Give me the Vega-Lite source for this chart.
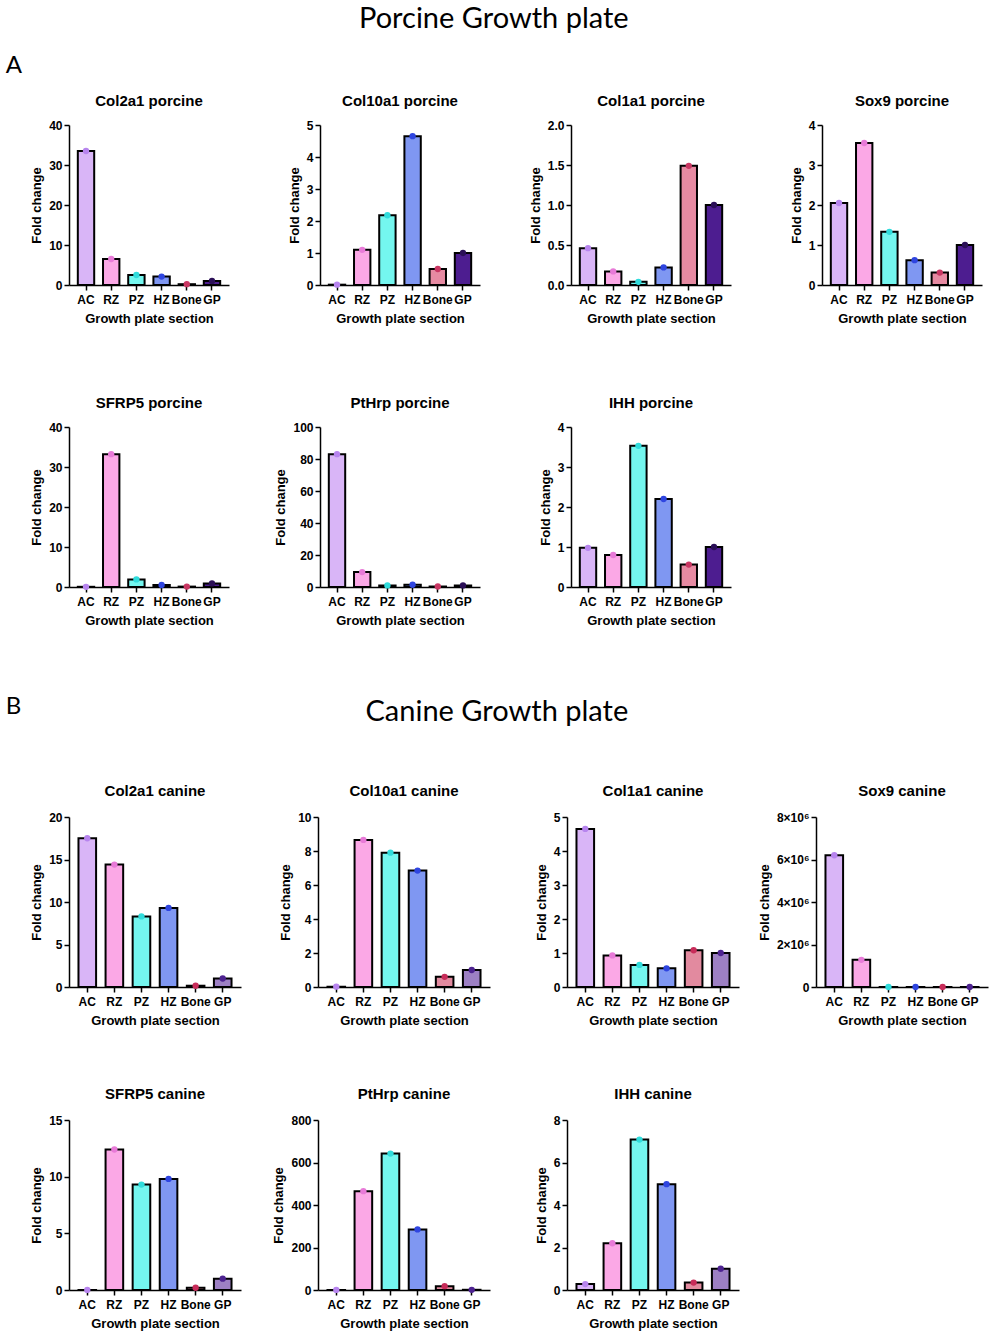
{
  "$schema": "https://vega.github.io/schema/vega-lite/v6.json",
  "background": "white",
  "padding": {"left": 5, "top": 5, "right": 5, "bottom": 2},
  "datasets": {
    "expr": [
      {"panel": "Col2a1 porcine", "section": "AC", "value": 33.5},
      {"panel": "Col2a1 porcine", "section": "RZ", "value": 6.5},
      {"panel": "Col2a1 porcine", "section": "PZ", "value": 2.5},
      {"panel": "Col2a1 porcine", "section": "HZ", "value": 2.1},
      {"panel": "Col2a1 porcine", "section": "Bone", "value": 0.2},
      {"panel": "Col2a1 porcine", "section": "GP", "value": 1.0},
      {"panel": "Col10a1 porcine", "section": "AC", "value": 0.01},
      {"panel": "Col10a1 porcine", "section": "RZ", "value": 1.1},
      {"panel": "Col10a1 porcine", "section": "PZ", "value": 2.18},
      {"panel": "Col10a1 porcine", "section": "HZ", "value": 4.65},
      {"panel": "Col10a1 porcine", "section": "Bone", "value": 0.5},
      {"panel": "Col10a1 porcine", "section": "GP", "value": 1.0},
      {"panel": "Col1a1 porcine", "section": "AC", "value": 0.46},
      {"panel": "Col1a1 porcine", "section": "RZ", "value": 0.17},
      {"panel": "Col1a1 porcine", "section": "PZ", "value": 0.04},
      {"panel": "Col1a1 porcine", "section": "HZ", "value": 0.22},
      {"panel": "Col1a1 porcine", "section": "Bone", "value": 1.49},
      {"panel": "Col1a1 porcine", "section": "GP", "value": 1.0},
      {"panel": "Sox9 porcine", "section": "AC", "value": 2.05},
      {"panel": "Sox9 porcine", "section": "RZ", "value": 3.55},
      {"panel": "Sox9 porcine", "section": "PZ", "value": 1.33},
      {"panel": "Sox9 porcine", "section": "HZ", "value": 0.62},
      {"panel": "Sox9 porcine", "section": "Bone", "value": 0.31},
      {"panel": "Sox9 porcine", "section": "GP", "value": 1.0},
      {"panel": "SFRP5 porcine", "section": "AC", "value": 0.05},
      {"panel": "SFRP5 porcine", "section": "RZ", "value": 33.2},
      {"panel": "SFRP5 porcine", "section": "PZ", "value": 1.9},
      {"panel": "SFRP5 porcine", "section": "HZ", "value": 0.5},
      {"panel": "SFRP5 porcine", "section": "Bone", "value": 0.1},
      {"panel": "SFRP5 porcine", "section": "GP", "value": 0.9},
      {"panel": "PtHrp porcine", "section": "AC", "value": 83.0},
      {"panel": "PtHrp porcine", "section": "RZ", "value": 9.3},
      {"panel": "PtHrp porcine", "section": "PZ", "value": 1.0},
      {"panel": "PtHrp porcine", "section": "HZ", "value": 1.4},
      {"panel": "PtHrp porcine", "section": "Bone", "value": 0.3},
      {"panel": "PtHrp porcine", "section": "GP", "value": 1.0},
      {"panel": "IHH porcine", "section": "AC", "value": 0.98},
      {"panel": "IHH porcine", "section": "RZ", "value": 0.8},
      {"panel": "IHH porcine", "section": "PZ", "value": 3.53},
      {"panel": "IHH porcine", "section": "HZ", "value": 2.2},
      {"panel": "IHH porcine", "section": "Bone", "value": 0.56},
      {"panel": "IHH porcine", "section": "GP", "value": 1.0},
      {"panel": "Col2a1 canine", "section": "AC", "value": 17.5},
      {"panel": "Col2a1 canine", "section": "RZ", "value": 14.4},
      {"panel": "Col2a1 canine", "section": "PZ", "value": 8.3},
      {"panel": "Col2a1 canine", "section": "HZ", "value": 9.3},
      {"panel": "Col2a1 canine", "section": "Bone", "value": 0.15},
      {"panel": "Col2a1 canine", "section": "GP", "value": 1.0},
      {"panel": "Col10a1 canine", "section": "AC", "value": 0.02},
      {"panel": "Col10a1 canine", "section": "RZ", "value": 8.65},
      {"panel": "Col10a1 canine", "section": "PZ", "value": 7.9},
      {"panel": "Col10a1 canine", "section": "HZ", "value": 6.85},
      {"panel": "Col10a1 canine", "section": "Bone", "value": 0.6},
      {"panel": "Col10a1 canine", "section": "GP", "value": 1.0},
      {"panel": "Col1a1 canine", "section": "AC", "value": 4.65},
      {"panel": "Col1a1 canine", "section": "RZ", "value": 0.93},
      {"panel": "Col1a1 canine", "section": "PZ", "value": 0.65},
      {"panel": "Col1a1 canine", "section": "HZ", "value": 0.55},
      {"panel": "Col1a1 canine", "section": "Bone", "value": 1.08},
      {"panel": "Col1a1 canine", "section": "GP", "value": 1.0},
      {"panel": "Sox9 canine", "section": "AC", "value": 6200000},
      {"panel": "Sox9 canine", "section": "RZ", "value": 1280000},
      {"panel": "Sox9 canine", "section": "PZ", "value": 1},
      {"panel": "Sox9 canine", "section": "HZ", "value": 1},
      {"panel": "Sox9 canine", "section": "Bone", "value": 1},
      {"panel": "Sox9 canine", "section": "GP", "value": 1},
      {"panel": "SFRP5 canine", "section": "AC", "value": 0.01},
      {"panel": "SFRP5 canine", "section": "RZ", "value": 12.4},
      {"panel": "SFRP5 canine", "section": "PZ", "value": 9.3},
      {"panel": "SFRP5 canine", "section": "HZ", "value": 9.8},
      {"panel": "SFRP5 canine", "section": "Bone", "value": 0.2},
      {"panel": "SFRP5 canine", "section": "GP", "value": 1.0},
      {"panel": "PtHrp canine", "section": "AC", "value": 0.5},
      {"panel": "PtHrp canine", "section": "RZ", "value": 465},
      {"panel": "PtHrp canine", "section": "PZ", "value": 642},
      {"panel": "PtHrp canine", "section": "HZ", "value": 285},
      {"panel": "PtHrp canine", "section": "Bone", "value": 18},
      {"panel": "PtHrp canine", "section": "GP", "value": 1.0},
      {"panel": "IHH canine", "section": "AC", "value": 0.28},
      {"panel": "IHH canine", "section": "RZ", "value": 2.2},
      {"panel": "IHH canine", "section": "PZ", "value": 7.08},
      {"panel": "IHH canine", "section": "HZ", "value": 4.98},
      {"panel": "IHH canine", "section": "Bone", "value": 0.35},
      {"panel": "IHH canine", "section": "GP", "value": 1.0}
    ]
  },
  "data": {"name": "expr"},
  "resolve": {"scale": {"fill": "independent", "color": "independent"}},
  "spacing": 68,
  "vconcat": [
    {
      "title": {"text": "Porcine Growth plate", "font": "Lato", "fontSize": 29, "fontWeight": "normal", "anchor": "middle", "offset": 20},
      "vconcat": [
        {
          "title": {"text": "A", "font": "Lato", "fontSize": 24, "fontWeight": "normal", "anchor": "start", "dx": -25, "offset": 16},
          "spacing": 71,
          "vconcat": [
            {
              "bounds": "flush",
              "spacing": 91,
              "hconcat": [
                {
                  "title": {"text": "Col2a1 porcine", "offset": 10}, "width": 160, "height": 160,
                  "transform": [{"filter": "datum.panel === 'Col2a1 porcine'"}],
                  "encoding": {
                    "x": {"field": "section", "type": "nominal", "sort": ["AC","RZ","PZ","HZ","Bone","GP"], "scale": {"paddingInner": 0.35, "paddingOuter": 0.35}, "axis": {"title": "Growth plate section"}},
                    "y": {"field": "value", "type": "quantitative", "scale": {"domain": [0, 40]}, "axis": {"values": [0,10,20,30,40], "title": "Fold change"}}
                  },
                  "layer": [
                    {"mark": {"type": "bar", "stroke": "black", "strokeWidth": 2}, "encoding": {"fill": {"field": "section", "type": "nominal", "scale": {"domain": ["AC","RZ","PZ","HZ","Bone","GP"], "range": ["#d9b5f7","#fba8e6","#74f6ef","#7f97f2","#e68aa2","#4d1d90"]}, "legend": null}}},
                    {"mark": {"type": "point", "filled": true, "size": 40, "opacity": 1}, "encoding": {"color": {"field": "section", "type": "nominal", "scale": {"domain": ["AC","RZ","PZ","HZ","Bone","GP"], "range": ["#b784ee","#e87ad8","#30dcdc","#2f45e0","#c93763","#2b0f57"]}, "legend": null}}}
                  ]
                },
                {
                  "title": {"text": "Col10a1 porcine", "offset": 10}, "width": 160, "height": 160,
                  "transform": [{"filter": "datum.panel === 'Col10a1 porcine'"}],
                  "encoding": {
                    "x": {"field": "section", "type": "nominal", "sort": ["AC","RZ","PZ","HZ","Bone","GP"], "scale": {"paddingInner": 0.35, "paddingOuter": 0.35}, "axis": {"title": "Growth plate section"}},
                    "y": {"field": "value", "type": "quantitative", "scale": {"domain": [0, 5]}, "axis": {"values": [0,1,2,3,4,5], "title": "Fold change"}}
                  },
                  "layer": [
                    {"mark": {"type": "bar", "stroke": "black", "strokeWidth": 2}, "encoding": {"fill": {"field": "section", "type": "nominal", "scale": {"domain": ["AC","RZ","PZ","HZ","Bone","GP"], "range": ["#d9b5f7","#fba8e6","#74f6ef","#7f97f2","#e68aa2","#4d1d90"]}, "legend": null}}},
                    {"mark": {"type": "point", "filled": true, "size": 40, "opacity": 1}, "encoding": {"color": {"field": "section", "type": "nominal", "scale": {"domain": ["AC","RZ","PZ","HZ","Bone","GP"], "range": ["#b784ee","#e87ad8","#30dcdc","#2f45e0","#c93763","#2b0f57"]}, "legend": null}}}
                  ]
                },
                {
                  "title": {"text": "Col1a1 porcine", "offset": 10}, "width": 160, "height": 160,
                  "transform": [{"filter": "datum.panel === 'Col1a1 porcine'"}],
                  "encoding": {
                    "x": {"field": "section", "type": "nominal", "sort": ["AC","RZ","PZ","HZ","Bone","GP"], "scale": {"paddingInner": 0.35, "paddingOuter": 0.35}, "axis": {"title": "Growth plate section"}},
                    "y": {"field": "value", "type": "quantitative", "scale": {"domain": [0, 2]}, "axis": {"values": [0,0.5,1,1.5,2], "format": ".1f", "title": "Fold change"}}
                  },
                  "layer": [
                    {"mark": {"type": "bar", "stroke": "black", "strokeWidth": 2}, "encoding": {"fill": {"field": "section", "type": "nominal", "scale": {"domain": ["AC","RZ","PZ","HZ","Bone","GP"], "range": ["#d9b5f7","#fba8e6","#74f6ef","#7f97f2","#e68aa2","#4d1d90"]}, "legend": null}}},
                    {"mark": {"type": "point", "filled": true, "size": 40, "opacity": 1}, "encoding": {"color": {"field": "section", "type": "nominal", "scale": {"domain": ["AC","RZ","PZ","HZ","Bone","GP"], "range": ["#b784ee","#e87ad8","#30dcdc","#2f45e0","#c93763","#2b0f57"]}, "legend": null}}}
                  ]
                },
                {
                  "title": {"text": "Sox9 porcine", "offset": 10}, "width": 160, "height": 160,
                  "transform": [{"filter": "datum.panel === 'Sox9 porcine'"}],
                  "encoding": {
                    "x": {"field": "section", "type": "nominal", "sort": ["AC","RZ","PZ","HZ","Bone","GP"], "scale": {"paddingInner": 0.35, "paddingOuter": 0.35}, "axis": {"title": "Growth plate section"}},
                    "y": {"field": "value", "type": "quantitative", "scale": {"domain": [0, 4]}, "axis": {"values": [0,1,2,3,4], "title": "Fold change"}}
                  },
                  "layer": [
                    {"mark": {"type": "bar", "stroke": "black", "strokeWidth": 2}, "encoding": {"fill": {"field": "section", "type": "nominal", "scale": {"domain": ["AC","RZ","PZ","HZ","Bone","GP"], "range": ["#d9b5f7","#fba8e6","#74f6ef","#7f97f2","#e68aa2","#4d1d90"]}, "legend": null}}},
                    {"mark": {"type": "point", "filled": true, "size": 40, "opacity": 1}, "encoding": {"color": {"field": "section", "type": "nominal", "scale": {"domain": ["AC","RZ","PZ","HZ","Bone","GP"], "range": ["#b784ee","#e87ad8","#30dcdc","#2f45e0","#c93763","#2b0f57"]}, "legend": null}}}
                  ]
                }
              ]
            },
            {
              "bounds": "flush",
              "spacing": 91,
              "hconcat": [
                {
                  "title": {"text": "SFRP5 porcine", "offset": 10}, "width": 160, "height": 160,
                  "transform": [{"filter": "datum.panel === 'SFRP5 porcine'"}],
                  "encoding": {
                    "x": {"field": "section", "type": "nominal", "sort": ["AC","RZ","PZ","HZ","Bone","GP"], "scale": {"paddingInner": 0.35, "paddingOuter": 0.35}, "axis": {"title": "Growth plate section"}},
                    "y": {"field": "value", "type": "quantitative", "scale": {"domain": [0, 40]}, "axis": {"values": [0,10,20,30,40], "title": "Fold change"}}
                  },
                  "layer": [
                    {"mark": {"type": "bar", "stroke": "black", "strokeWidth": 2}, "encoding": {"fill": {"field": "section", "type": "nominal", "scale": {"domain": ["AC","RZ","PZ","HZ","Bone","GP"], "range": ["#d9b5f7","#fba8e6","#74f6ef","#7f97f2","#e68aa2","#4d1d90"]}, "legend": null}}},
                    {"mark": {"type": "point", "filled": true, "size": 40, "opacity": 1}, "encoding": {"color": {"field": "section", "type": "nominal", "scale": {"domain": ["AC","RZ","PZ","HZ","Bone","GP"], "range": ["#b784ee","#e87ad8","#30dcdc","#2f45e0","#c93763","#2b0f57"]}, "legend": null}}}
                  ]
                },
                {
                  "title": {"text": "PtHrp porcine", "offset": 10}, "width": 160, "height": 160,
                  "transform": [{"filter": "datum.panel === 'PtHrp porcine'"}],
                  "encoding": {
                    "x": {"field": "section", "type": "nominal", "sort": ["AC","RZ","PZ","HZ","Bone","GP"], "scale": {"paddingInner": 0.35, "paddingOuter": 0.35}, "axis": {"title": "Growth plate section"}},
                    "y": {"field": "value", "type": "quantitative", "scale": {"domain": [0, 100]}, "axis": {"values": [0,20,40,60,80,100], "title": "Fold change"}}
                  },
                  "layer": [
                    {"mark": {"type": "bar", "stroke": "black", "strokeWidth": 2}, "encoding": {"fill": {"field": "section", "type": "nominal", "scale": {"domain": ["AC","RZ","PZ","HZ","Bone","GP"], "range": ["#d9b5f7","#fba8e6","#74f6ef","#7f97f2","#e68aa2","#4d1d90"]}, "legend": null}}},
                    {"mark": {"type": "point", "filled": true, "size": 40, "opacity": 1}, "encoding": {"color": {"field": "section", "type": "nominal", "scale": {"domain": ["AC","RZ","PZ","HZ","Bone","GP"], "range": ["#b784ee","#e87ad8","#30dcdc","#2f45e0","#c93763","#2b0f57"]}, "legend": null}}}
                  ]
                },
                {
                  "title": {"text": "IHH porcine", "offset": 10}, "width": 160, "height": 160,
                  "transform": [{"filter": "datum.panel === 'IHH porcine'"}],
                  "encoding": {
                    "x": {"field": "section", "type": "nominal", "sort": ["AC","RZ","PZ","HZ","Bone","GP"], "scale": {"paddingInner": 0.35, "paddingOuter": 0.35}, "axis": {"title": "Growth plate section"}},
                    "y": {"field": "value", "type": "quantitative", "scale": {"domain": [0, 4]}, "axis": {"values": [0,1,2,3,4], "title": "Fold change"}}
                  },
                  "layer": [
                    {"mark": {"type": "bar", "stroke": "black", "strokeWidth": 2}, "encoding": {"fill": {"field": "section", "type": "nominal", "scale": {"domain": ["AC","RZ","PZ","HZ","Bone","GP"], "range": ["#d9b5f7","#fba8e6","#74f6ef","#7f97f2","#e68aa2","#4d1d90"]}, "legend": null}}},
                    {"mark": {"type": "point", "filled": true, "size": 40, "opacity": 1}, "encoding": {"color": {"field": "section", "type": "nominal", "scale": {"domain": ["AC","RZ","PZ","HZ","Bone","GP"], "range": ["#b784ee","#e87ad8","#30dcdc","#2f45e0","#c93763","#2b0f57"]}, "legend": null}}}
                  ]
                }
              ]
            }
          ]
        }
      ]
    },
    {
      "title": {"text": "Canine Growth plate", "font": "Lato", "fontSize": 29, "fontWeight": "normal", "anchor": "middle", "offset": -32},
      "vconcat": [
        {
          "title": {"text": "B", "font": "Lato", "fontSize": 24, "fontWeight": "normal", "anchor": "start", "dx": -25, "offset": 65},
          "spacing": 60,
          "vconcat": [
            {
              "bounds": "flush",
              "spacing": 77,
              "hconcat": [
                {
                  "title": "Col2a1 canine", "width": 172, "height": 170,
                  "transform": [{"filter": "datum.panel === 'Col2a1 canine'"}],
                  "encoding": {
                    "x": {"field": "section", "type": "nominal", "sort": ["AC","RZ","PZ","HZ","Bone","GP"], "scale": {"paddingInner": 0.35, "paddingOuter": 0.35}, "axis": {"title": "Growth plate section"}},
                    "y": {"field": "value", "type": "quantitative", "scale": {"domain": [0, 20]}, "axis": {"values": [0,5,10,15,20], "title": "Fold change"}}
                  },
                  "layer": [
                    {"mark": {"type": "bar", "stroke": "black", "strokeWidth": 2}, "encoding": {"fill": {"field": "section", "type": "nominal", "scale": {"domain": ["AC","RZ","PZ","HZ","Bone","GP"], "range": ["#d9b5f7","#fba8e6","#74f6ef","#7f97f2","#e28a9f","#9d80c4"]}, "legend": null}}},
                    {"mark": {"type": "point", "filled": true, "size": 40, "opacity": 1}, "encoding": {"color": {"field": "section", "type": "nominal", "scale": {"domain": ["AC","RZ","PZ","HZ","Bone","GP"], "range": ["#b784ee","#e87ad8","#30dcdc","#2f45e0","#c82c5a","#4e2391"]}, "legend": null}}}
                  ]
                },
                {
                  "title": "Col10a1 canine", "width": 172, "height": 170,
                  "transform": [{"filter": "datum.panel === 'Col10a1 canine'"}],
                  "encoding": {
                    "x": {"field": "section", "type": "nominal", "sort": ["AC","RZ","PZ","HZ","Bone","GP"], "scale": {"paddingInner": 0.35, "paddingOuter": 0.35}, "axis": {"title": "Growth plate section"}},
                    "y": {"field": "value", "type": "quantitative", "scale": {"domain": [0, 10]}, "axis": {"values": [0,2,4,6,8,10], "title": "Fold change"}}
                  },
                  "layer": [
                    {"mark": {"type": "bar", "stroke": "black", "strokeWidth": 2}, "encoding": {"fill": {"field": "section", "type": "nominal", "scale": {"domain": ["AC","RZ","PZ","HZ","Bone","GP"], "range": ["#d9b5f7","#fba8e6","#74f6ef","#7f97f2","#e28a9f","#9d80c4"]}, "legend": null}}},
                    {"mark": {"type": "point", "filled": true, "size": 40, "opacity": 1}, "encoding": {"color": {"field": "section", "type": "nominal", "scale": {"domain": ["AC","RZ","PZ","HZ","Bone","GP"], "range": ["#b784ee","#e87ad8","#30dcdc","#2f45e0","#c82c5a","#4e2391"]}, "legend": null}}}
                  ]
                },
                {
                  "title": "Col1a1 canine", "width": 172, "height": 170,
                  "transform": [{"filter": "datum.panel === 'Col1a1 canine'"}],
                  "encoding": {
                    "x": {"field": "section", "type": "nominal", "sort": ["AC","RZ","PZ","HZ","Bone","GP"], "scale": {"paddingInner": 0.35, "paddingOuter": 0.35}, "axis": {"title": "Growth plate section"}},
                    "y": {"field": "value", "type": "quantitative", "scale": {"domain": [0, 5]}, "axis": {"values": [0,1,2,3,4,5], "title": "Fold change"}}
                  },
                  "layer": [
                    {"mark": {"type": "bar", "stroke": "black", "strokeWidth": 2}, "encoding": {"fill": {"field": "section", "type": "nominal", "scale": {"domain": ["AC","RZ","PZ","HZ","Bone","GP"], "range": ["#d9b5f7","#fba8e6","#74f6ef","#7f97f2","#e28a9f","#9d80c4"]}, "legend": null}}},
                    {"mark": {"type": "point", "filled": true, "size": 40, "opacity": 1}, "encoding": {"color": {"field": "section", "type": "nominal", "scale": {"domain": ["AC","RZ","PZ","HZ","Bone","GP"], "range": ["#b784ee","#e87ad8","#30dcdc","#2f45e0","#c82c5a","#4e2391"]}, "legend": null}}}
                  ]
                },
                {
                  "title": "Sox9 canine", "width": 172, "height": 170,
                  "transform": [{"filter": "datum.panel === 'Sox9 canine'"}],
                  "encoding": {
                    "x": {"field": "section", "type": "nominal", "sort": ["AC","RZ","PZ","HZ","Bone","GP"], "scale": {"paddingInner": 0.35, "paddingOuter": 0.35}, "axis": {"title": "Growth plate section"}},
                    "y": {"field": "value", "type": "quantitative", "scale": {"domain": [0, 8000000]}, "axis": {"values": [0,2000000,4000000,6000000,8000000], "labelExpr": "datum.value === 0 ? '0' : (datum.value / 1000000) + '×10⁶'", "title": "Fold change"}}
                  },
                  "layer": [
                    {"mark": {"type": "bar", "stroke": "black", "strokeWidth": 2}, "encoding": {"fill": {"field": "section", "type": "nominal", "scale": {"domain": ["AC","RZ","PZ","HZ","Bone","GP"], "range": ["#d9b5f7","#fba8e6","#74f6ef","#7f97f2","#e28a9f","#9d80c4"]}, "legend": null}}},
                    {"mark": {"type": "point", "filled": true, "size": 40, "opacity": 1}, "encoding": {"color": {"field": "section", "type": "nominal", "scale": {"domain": ["AC","RZ","PZ","HZ","Bone","GP"], "range": ["#b784ee","#e87ad8","#30dcdc","#2f45e0","#c82c5a","#4e2391"]}, "legend": null}}}
                  ]
                }
              ]
            },
            {
              "bounds": "flush",
              "spacing": 77,
              "hconcat": [
                {
                  "title": "SFRP5 canine", "width": 172, "height": 170,
                  "transform": [{"filter": "datum.panel === 'SFRP5 canine'"}],
                  "encoding": {
                    "x": {"field": "section", "type": "nominal", "sort": ["AC","RZ","PZ","HZ","Bone","GP"], "scale": {"paddingInner": 0.35, "paddingOuter": 0.35}, "axis": {"title": "Growth plate section"}},
                    "y": {"field": "value", "type": "quantitative", "scale": {"domain": [0, 15]}, "axis": {"values": [0,5,10,15], "title": "Fold change"}}
                  },
                  "layer": [
                    {"mark": {"type": "bar", "stroke": "black", "strokeWidth": 2}, "encoding": {"fill": {"field": "section", "type": "nominal", "scale": {"domain": ["AC","RZ","PZ","HZ","Bone","GP"], "range": ["#d9b5f7","#fba8e6","#74f6ef","#7f97f2","#e28a9f","#9d80c4"]}, "legend": null}}},
                    {"mark": {"type": "point", "filled": true, "size": 40, "opacity": 1}, "encoding": {"color": {"field": "section", "type": "nominal", "scale": {"domain": ["AC","RZ","PZ","HZ","Bone","GP"], "range": ["#b784ee","#e87ad8","#30dcdc","#2f45e0","#c82c5a","#4e2391"]}, "legend": null}}}
                  ]
                },
                {
                  "title": "PtHrp canine", "width": 172, "height": 170,
                  "transform": [{"filter": "datum.panel === 'PtHrp canine'"}],
                  "encoding": {
                    "x": {"field": "section", "type": "nominal", "sort": ["AC","RZ","PZ","HZ","Bone","GP"], "scale": {"paddingInner": 0.35, "paddingOuter": 0.35}, "axis": {"title": "Growth plate section"}},
                    "y": {"field": "value", "type": "quantitative", "scale": {"domain": [0, 800]}, "axis": {"values": [0,200,400,600,800], "title": "Fold change"}}
                  },
                  "layer": [
                    {"mark": {"type": "bar", "stroke": "black", "strokeWidth": 2}, "encoding": {"fill": {"field": "section", "type": "nominal", "scale": {"domain": ["AC","RZ","PZ","HZ","Bone","GP"], "range": ["#d9b5f7","#fba8e6","#74f6ef","#7f97f2","#e28a9f","#9d80c4"]}, "legend": null}}},
                    {"mark": {"type": "point", "filled": true, "size": 40, "opacity": 1}, "encoding": {"color": {"field": "section", "type": "nominal", "scale": {"domain": ["AC","RZ","PZ","HZ","Bone","GP"], "range": ["#b784ee","#e87ad8","#30dcdc","#2f45e0","#c82c5a","#4e2391"]}, "legend": null}}}
                  ]
                },
                {
                  "title": "IHH canine", "width": 172, "height": 170,
                  "transform": [{"filter": "datum.panel === 'IHH canine'"}],
                  "encoding": {
                    "x": {"field": "section", "type": "nominal", "sort": ["AC","RZ","PZ","HZ","Bone","GP"], "scale": {"paddingInner": 0.35, "paddingOuter": 0.35}, "axis": {"title": "Growth plate section"}},
                    "y": {"field": "value", "type": "quantitative", "scale": {"domain": [0, 8]}, "axis": {"values": [0,2,4,6,8], "title": "Fold change"}}
                  },
                  "layer": [
                    {"mark": {"type": "bar", "stroke": "black", "strokeWidth": 2}, "encoding": {"fill": {"field": "section", "type": "nominal", "scale": {"domain": ["AC","RZ","PZ","HZ","Bone","GP"], "range": ["#d9b5f7","#fba8e6","#74f6ef","#7f97f2","#e28a9f","#9d80c4"]}, "legend": null}}},
                    {"mark": {"type": "point", "filled": true, "size": 40, "opacity": 1}, "encoding": {"color": {"field": "section", "type": "nominal", "scale": {"domain": ["AC","RZ","PZ","HZ","Bone","GP"], "range": ["#b784ee","#e87ad8","#30dcdc","#2f45e0","#c82c5a","#4e2391"]}, "legend": null}}}
                  ]
                }
              ]
            }
          ]
        }
      ]
    }
  ],
  "config": {
    "view": {"stroke": null},
    "font": "Liberation Sans",
    "title": {"font": "Liberation Sans", "fontSize": 15, "fontWeight": "bold", "color": "black", "offset": 12},
    "axis": {
      "labelFont": "Liberation Sans", "labelFontSize": 12, "labelFontWeight": "bold", "labelColor": "black",
      "titleFont": "Liberation Sans", "titleFontSize": 13, "titleFontWeight": "bold", "titleColor": "black",
      "domainColor": "black", "domainWidth": 1.5, "tickColor": "black", "tickWidth": 1.5, "tickSize": 5,
      "grid": false, "labelPadding": 2, "titlePadding": 5
    },
    "axisX": {"labelAngle": 0, "labelOverlap": false, "tickSize": 5, "labelPadding": 4, "titlePadding": 7},
    "axisY": {"titlePadding": 5}
  }
}
